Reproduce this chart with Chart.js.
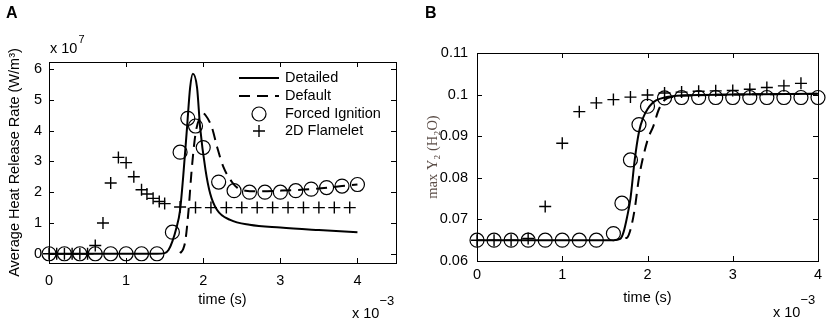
<!DOCTYPE html>
<html>
<head>
<meta charset="utf-8">
<script src="https://cdn.jsdelivr.net/npm/chart.js@4.4.1/dist/chart.umd.min.js"></script>
<style>
  body { margin: 0; background: #fff; width: 829px; height: 322px; position: relative; overflow: hidden; }
  .panel { position: absolute; top: 0; height: 322px; }
</style>
</head>
<body>
<div class="panel" style="left:0;width:420px"><canvas id="chartA"></canvas></div>
<div class="panel" style="left:420px;width:409px"><canvas id="chartB"></canvas></div>
<script>
// time values are in units of 1e-3 s (axis multiplier "x 10^-3")

// Panel A - average heat release rate (x 1e7 W/m3)
const timeDetailedA = [0, 1.4, 1.5, 1.55, 1.6, 1.65, 1.7, 1.74, 1.79, 1.83, 1.866, 1.92, 1.96, 2.03, 2.09, 2.18, 2.35, 2.6, 3.0, 3.5, 4.0];
const hrrDetailedA = [0, 0, 0.02, 0.12, 0.4, 0.82, 1.42, 2.5, 4.1, 5.4, 5.85, 5.4, 4.1, 2.72, 1.96, 1.42, 1.1, 0.94, 0.85, 0.77, 0.7];

const timeDefaultA = [1.7, 1.74, 1.77, 1.81, 1.85, 1.9, 1.96, 2.0, 2.03, 2.11, 2.18, 2.26, 2.37, 2.44, 2.55, 2.7, 3.0, 3.4, 3.8, 4.0];
const hrrDefaultA = [0.02, 0.15, 0.45, 1.42, 2.72, 3.9, 4.45, 4.55, 4.5, 4.12, 3.47, 2.83, 2.34, 2.15, 2.05, 2.03, 2.05, 2.1, 2.2, 2.25];

const timeForcedA = [0, 0.2, 0.4, 0.6, 0.8, 1.0, 1.2, 1.4, 1.6, 1.7, 1.8, 1.9, 2.0, 2.2, 2.4, 2.6, 2.8, 3.0, 3.2, 3.4, 3.6, 3.8, 4.0];
const hrrForcedA = [0, 0, 0, 0, 0, 0, 0, 0, 0.7, 3.3, 4.4, 4.15, 3.45, 2.33, 2.05, 2.0, 2.0, 2.0, 2.05, 2.1, 2.15, 2.2, 2.25];

const timeFlameletA = [0, 0.1, 0.2, 0.3, 0.4, 0.5, 0.6, 0.7, 0.8, 0.9, 1.0, 1.1, 1.2, 1.27, 1.35, 1.43, 1.5, 1.7, 1.9, 2.1, 2.3, 2.5, 2.7, 2.9, 3.1, 3.3, 3.5, 3.7, 3.9];
const hrrFlameletA = [0, 0, 0, 0, 0, 0, 0.27, 1.0, 2.3, 3.13, 2.96, 2.5, 2.08, 1.94, 1.8, 1.7, 1.63, 1.52, 1.5, 1.5, 1.5, 1.5, 1.5, 1.5, 1.5, 1.5, 1.5, 1.5, 1.5];

const xTicksA = [0, 1, 2, 3, 4];
const yTicksA = [0, 1, 2, 3, 4, 5, 6];

// Panel B - max Y2 (H2O)
const timeDetailedB = [0, 1.6, 1.68, 1.72, 1.76, 1.8, 1.85, 1.9, 1.95, 2.0, 2.05, 2.1, 2.2, 2.4, 3.0, 4.0];
const h2oDetailedB = [0.065, 0.065, 0.0653, 0.067, 0.0705, 0.075, 0.0843, 0.091, 0.0945, 0.0965, 0.0978, 0.0986, 0.0993, 0.0998, 0.1, 0.1002];

const timeDefaultB = [1.74, 1.76, 1.8, 1.85, 1.9, 2.0, 2.07, 2.13, 2.2, 2.3, 2.5, 3.0, 4.0];
const h2oDefaultB = [0.0655, 0.0656, 0.0675, 0.0725, 0.080, 0.089, 0.0925, 0.0963, 0.0987, 0.0995, 0.0998, 0.1, 0.1002];

const timeForcedB = [0, 0.2, 0.4, 0.6, 0.8, 1.0, 1.2, 1.4, 1.6, 1.7, 1.8, 1.9, 2.0, 2.2, 2.4, 2.6, 2.8, 3.0, 3.2, 3.4, 3.6, 3.8, 4.0];
const h2oForcedB = [0.065, 0.065, 0.065, 0.065, 0.065, 0.065, 0.065, 0.065, 0.0666, 0.0739, 0.0843, 0.0928, 0.0972, 0.0992, 0.0993, 0.0993, 0.0993, 0.0993, 0.0993, 0.0993, 0.0993, 0.0993, 0.0993];

const timeFlameletB = [0, 0.2, 0.4, 0.6, 0.8, 1.0, 1.2, 1.4, 1.6, 1.8, 2.0, 2.2, 2.4, 2.6, 2.8, 3.0, 3.2, 3.4, 3.6, 3.8];
const h2oFlameletB = [0.065, 0.065, 0.065, 0.0654, 0.0731, 0.0883, 0.0959, 0.098, 0.0988, 0.0994, 0.0999, 0.1004, 0.1006, 0.1008, 0.1009, 0.101, 0.1013, 0.1017, 0.1021, 0.1027];

const xTicksB = [0, 1, 2, 3, 4];
const yTicksB = [0.06, 0.07, 0.08, 0.09, 0.1, 0.11];

const seriesNames = ["Detailed", "Default", "Forced Ignition", "2D Flamelet"];

const fontFamily = "Arial, 'Liberation Sans', sans-serif";
Chart.defaults.font.family = fontFamily;
Chart.defaults.font.size = 14.5;
Chart.defaults.color = "#000";

const toPoints = (xs, ys) => xs.map((x, i) => ({ x: x, y: ys[i] }));

const makeDatasets = (detailed, dflt, forced, flamelet) => [
  {
    label: seriesNames[0], data: detailed, showLine: true, borderColor: "#000",
    borderWidth: 2, pointRadius: 0, cubicInterpolationMode: "monotone", clip: false,
  },
  {
    label: seriesNames[1], data: dflt, showLine: true, borderColor: "#000",
    borderWidth: 2, borderDash: [11, 7], pointRadius: 0, cubicInterpolationMode: "monotone", clip: false,
  },
  {
    label: seriesNames[2], data: forced, showLine: false, pointStyle: "circle", pointRadius: 7,
    pointBorderColor: "#000", pointBackgroundColor: "rgba(0,0,0,0)", pointBorderWidth: 1.2, clip: false,
  },
  {
    label: seriesNames[3], data: flamelet, showLine: false, pointStyle: "cross", pointRadius: 6,
    pointBorderColor: "#000", pointBorderWidth: 1.4, clip: false,
  },
];

// box around the plot + inward tick marks on all four sides (matlab style)
const boxPlugin = {
  id: "matlabBox",
  afterDraw(chart) {
    const { ctx, chartArea: a, scales } = chart;
    const len = 5;
    ctx.save();
    ctx.strokeStyle = "#000";
    ctx.lineWidth = 1;
    ctx.beginPath();
    scales.x.ticks.forEach((t) => {
      const px = Math.round(scales.x.getPixelForValue(t.value)) + 0.5;
      ctx.moveTo(px, a.bottom); ctx.lineTo(px, a.bottom - len);
      ctx.moveTo(px, a.top); ctx.lineTo(px, a.top + len);
    });
    scales.y.ticks.forEach((t) => {
      const py = Math.round(scales.y.getPixelForValue(t.value)) + 0.5;
      ctx.moveTo(a.left, py); ctx.lineTo(a.left + len, py);
      ctx.moveTo(a.right, py); ctx.lineTo(a.right - len, py);
    });
    ctx.stroke();
    ctx.strokeRect(Math.round(a.left) + 0.5, Math.round(a.top) + 0.5, Math.round(a.right - a.left), Math.round(a.bottom - a.top));
    ctx.restore();
  },
};

// panel letter and exponent labels
const decorPlugin = {
  id: "decor",
  afterDraw(chart, args, opts) {
    const ctx = chart.ctx;
    ctx.save();
    ctx.fillStyle = "#000";
    ctx.textBaseline = "alphabetic";
    ctx.font = "bold 16px " + fontFamily;
    ctx.fillText(opts.letter, opts.letterX, 18);
    ctx.font = "14.5px " + fontFamily;
    if (opts.yExp) {
      ctx.fillText("x 10", opts.yExp[0], opts.yExp[1]);
      const w = ctx.measureText("x 10").width;
      ctx.font = "11px " + fontFamily;
      ctx.fillText(opts.yExpText, opts.yExp[0] + w + 1, opts.yExp[1] - 10);
      ctx.font = "14.5px " + fontFamily;
    }
    ctx.fillText("x 10", opts.xExp[0], opts.xExp[1]);
    const w2 = ctx.measureText("x 10").width;
    ctx.font = "13px " + fontFamily;
    ctx.fillText(opts.xExpText, opts.xExp[0] + w2, opts.xExp[1] - 13);
    ctx.restore();
  },
};

// legend drawn inside the plot area (top right)
const insideLegendPlugin = {
  id: "insideLegend",
  afterDraw(chart, args, opts) {
    if (!opts.show) return;
    const ctx = chart.ctx;
    const rows = [78, 96, 114, 131];
    const x0 = 239, x1 = 279, tx = 285;
    ctx.save();
    ctx.strokeStyle = "#000";
    ctx.font = "14.5px " + fontFamily;
    ctx.textBaseline = "middle";
    chart.data.datasets.forEach((ds, i) => {
      const y = rows[i];
      ctx.setLineDash([]);
      if (ds.showLine) {
        ctx.lineWidth = ds.borderWidth;
        ctx.setLineDash(ds.borderDash || []);
        ctx.beginPath(); ctx.moveTo(x0, y); ctx.lineTo(x1, y); ctx.stroke();
        ctx.setLineDash([]);
      } else {
        const cx = (x0 + x1) / 2;
        ctx.lineWidth = ds.pointBorderWidth;
        ctx.fillStyle = "rgba(0,0,0,0)";
        Chart.helpers.drawPoint(ctx, { pointStyle: ds.pointStyle, radius: ds.pointRadius, borderWidth: ds.pointBorderWidth }, cx, y);
      }
      ctx.fillStyle = "#000";
      ctx.fillText(ds.label, tx, y);
    });
    ctx.restore();
  },
};

const makeChart = (id, datasets, cfg) => {
  return new Chart(document.getElementById(id), {
    type: "scatter",
    data: { datasets: datasets },
    options: {
      responsive: true,
      maintainAspectRatio: false,
      animation: false,
      layout: { padding: cfg.padding },
      plugins: {
        legend: { display: false },
        tooltip: { enabled: false },
        decor: cfg.decor,
        insideLegend: { show: cfg.legend },
      },
      scales: {
        x: {
          type: "linear",
          min: cfg.xMin, max: cfg.xMax,
          grid: { display: false, drawTicks: false },
          border: { display: false },
          afterBuildTicks: (s) => { s.ticks = cfg.xTicks.map((v) => ({ value: v })); },
          afterFit: (s) => { s.height = cfg.xHeight; },
          ticks: { padding: cfg.xTickPad, color: "#000", callback: (v) => String(v) },
          title: { display: true, text: "time (s)", color: "#000", padding: { top: 0, bottom: cfg.xTitlePad } },
        },
        y: {
          type: "linear",
          min: cfg.yMin, max: cfg.yMax,
          grid: { display: false, drawTicks: false },
          border: { display: false },
          afterBuildTicks: (s) => { s.ticks = cfg.yTicks.map((v) => ({ value: v })); },
          afterFit: (s) => { s.width = cfg.yWidth; },
          ticks: { padding: cfg.yTickPad, color: "#000", callback: (v) => String(+v.toFixed(2)) },
          title: {
            display: true, text: cfg.yTitle, color: cfg.yTitleColor,
            font: cfg.yTitleFont, padding: { top: cfg.yTitlePad, bottom: 0 },
          },
        },
      },
    },
    plugins: [boxPlugin, decorPlugin, insideLegendPlugin],
  });
};

makeChart(
  "chartA",
  makeDatasets(
    toPoints(timeDetailedA, hrrDetailedA),
    toPoints(timeDefaultA, hrrDefaultA),
    toPoints(timeForcedA, hrrForcedA),
    toPoints(timeFlameletA, hrrFlameletA)
  ),
  {
    padding: { top: 62, right: 24, left: 0, bottom: 0 },
    xMin: 0, xMax: 4.5, yMin: -0.3, yMax: 6.23,
    xTicks: xTicksA, yTicks: yTicksA,
    xHeight: 59, yWidth: 49, xTickPad: 9, yTickPad: 7, xTitlePad: 13,
    yTitle: "Average Heat Release Rate (W/m³)", yTitleColor: "#000",
    yTitleFont: { size: 14.5 }, yTitlePad: 6,
    legend: true,
    decor: { letter: "A", letterX: 6, yExp: [50, 53], yExpText: "7", xExp: [352, 318], xExpText: "−3" },
  }
);

makeChart(
  "chartB",
  makeDatasets(
    toPoints(timeDetailedB, h2oDetailedB),
    toPoints(timeDefaultB, h2oDefaultB),
    toPoints(timeForcedB, h2oForcedB),
    toPoints(timeFlameletB, h2oFlameletB)
  ),
  {
    padding: { top: 53, right: 11, left: 0, bottom: 0 },
    xMin: 0, xMax: 4, yMin: 0.06, yMax: 0.11,
    xTicks: xTicksB, yTicks: yTicksB,
    xHeight: 61, yWidth: 57, xTickPad: 5, yTickPad: 9, xTitlePad: 15,
    yTitle: "max Y₂ (H₂O)", yTitleColor: "#5a4c46",
    yTitleFont: { size: 14.5, family: "'Liberation Serif', 'DejaVu Serif', serif" }, yTitlePad: 4,
    legend: false,
    decor: { letter: "B", letterX: 5, yExp: null, xExp: [353, 317], xExpText: "−3" },
  }
);
</script>
</body>
</html>
